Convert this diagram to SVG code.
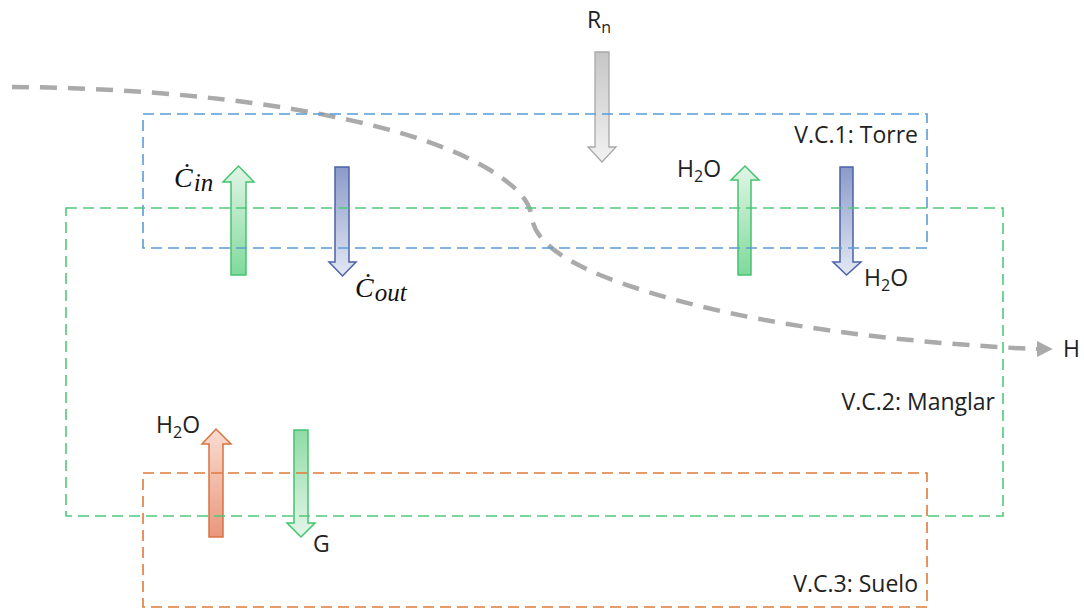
<svg xmlns="http://www.w3.org/2000/svg" width="1084" height="613" viewBox="0 0 1084 613">
<defs>
<style>
.lbl{font-family:"Open Sans","Liberation Sans",Arial,sans-serif;font-size:23px;fill:#222}
.math{font-family:"Liberation Serif","DejaVu Serif",serif;font-style:italic;font-size:28px;fill:#111}
.box{fill:none;stroke-width:1.6;stroke-dasharray:11 6}
</style>
<linearGradient id="gUp" x1="0" y1="0" x2="0" y2="1"><stop offset="0" stop-color="#e2f5e7"/><stop offset="1" stop-color="#7fd99b"/></linearGradient>
<linearGradient id="gDown" x1="0" y1="0" x2="0" y2="1"><stop offset="0" stop-color="#8fdba6"/><stop offset="1" stop-color="#e4f6e9"/></linearGradient>
<linearGradient id="bDown" x1="0" y1="0" x2="0" y2="1"><stop offset="0" stop-color="#8b9bc9"/><stop offset="1" stop-color="#e3e8f4"/></linearGradient>
<linearGradient id="oUp" x1="0" y1="0" x2="0" y2="1"><stop offset="0" stop-color="#f9ddd2"/><stop offset="1" stop-color="#e9977d"/></linearGradient>
<linearGradient id="gray" x1="0" y1="0" x2="0" y2="1"><stop offset="0" stop-color="#c6c6c6"/><stop offset="1" stop-color="#f2f2f2"/></linearGradient>
<marker id="tri" viewBox="0 0 10 10" refX="2" refY="5" markerWidth="4" markerHeight="4" orient="auto" markerUnits="strokeWidth"><path d="M0,0 L10,5 L0,10 z" fill="#aaaaaa"/></marker>
</defs>
<rect width="1084" height="613" fill="#ffffff"/>

<g id="connectors">
<path d="M12,87 C200,88 400,115 490,170 C525,192 530,205 532,218 C535,240 560,258 600,275 C700,315 850,340 1034,349" fill="none" stroke="#aaaaaa" stroke-width="4.5" stroke-dasharray="17 11"/>
<path d="M1036,349 L1040,349" fill="none" stroke="#aaaaaa" stroke-width="4" marker-end="url(#tri)"/>
</g>

<g id="flux-Rn">
<polygon points="595,52 609,52 609,147 616,147 602,162 588,147 595,147" fill="url(#gray)" stroke="#a8a8a8" stroke-width="1.3"/>
<text class="lbl" x="587" y="28">R<tspan font-size="16" dy="5">n</tspan></text>
</g>

<g id="flux-Cin">
<polygon points="231,275 231,182 223,182 238.5,166 254,182 246,182 246,275" fill="url(#gUp)" stroke="#43c46e" stroke-width="1.5"/>
<text class="math" x="174" y="187">Ċ<tspan font-size="25" dx="1" dy="4">in</tspan></text>
</g>

<g id="flux-Cout">
<polygon points="335,167 349,167 349,262 356,262 342.5,276 329,262 335,262" fill="url(#bDown)" stroke="#4a62a8" stroke-width="1.5"/>
<text class="math" x="355" y="297">Ċ<tspan font-size="25" dx="1" dy="4">out</tspan></text>
</g>

<g id="flux-H2O-up">
<polygon points="738,275 738,180 731,180 745,166 759,180 751,180 751,275" fill="url(#gUp)" stroke="#43c46e" stroke-width="1.5"/>
<text class="lbl" x="677" y="177">H<tspan font-size="16" dy="5">2</tspan><tspan dy="-5">O</tspan></text>
</g>

<g id="flux-H2O-down">
<polygon points="840,167 853,167 853,262 861,262 846.5,275 833,262 840,262" fill="url(#bDown)" stroke="#4a62a8" stroke-width="1.5"/>
<text class="lbl" x="864" y="286">H<tspan font-size="16" dy="5">2</tspan><tspan dy="-5">O</tspan></text>
</g>

<g id="flux-H2O-soil">
<polygon points="209,537 209,444 202,444 216,429 231,444 223,444 223,537" fill="url(#oUp)" stroke="#d9733f" stroke-width="1.5"/>
<text class="lbl" x="156" y="433">H<tspan font-size="16" dy="5">2</tspan><tspan dy="-5">O</tspan></text>
</g>

<g id="flux-G">
<polygon points="294,430 308,430 308,523 315,523 301,537 287,523 294,523" fill="url(#gDown)" stroke="#43c46e" stroke-width="1.5"/>
<text class="lbl" x="313" y="552">G</text>
</g>

<g id="flux-H">
<text class="lbl" x="1063" y="357">H</text>
</g>

<g id="vc1-torre">
<rect class="box" x="143" y="114" width="784" height="134" stroke="#5b9bd5"/>
<text class="lbl" x="918" y="143" text-anchor="end">V.C.1: Torre</text>
</g>

<g id="vc2-manglar">
<rect class="box" x="66" y="208" width="937" height="308" stroke="#4fc979"/>
<text class="lbl" x="995" y="410" text-anchor="end">V.C.2: Manglar</text>
</g>

<g id="vc3-suelo">
<rect class="box" x="143" y="473" width="784" height="134" stroke="#e07b39"/>
<text class="lbl" x="918" y="592" text-anchor="end">V.C.3: Suelo</text>
</g>
</svg>
